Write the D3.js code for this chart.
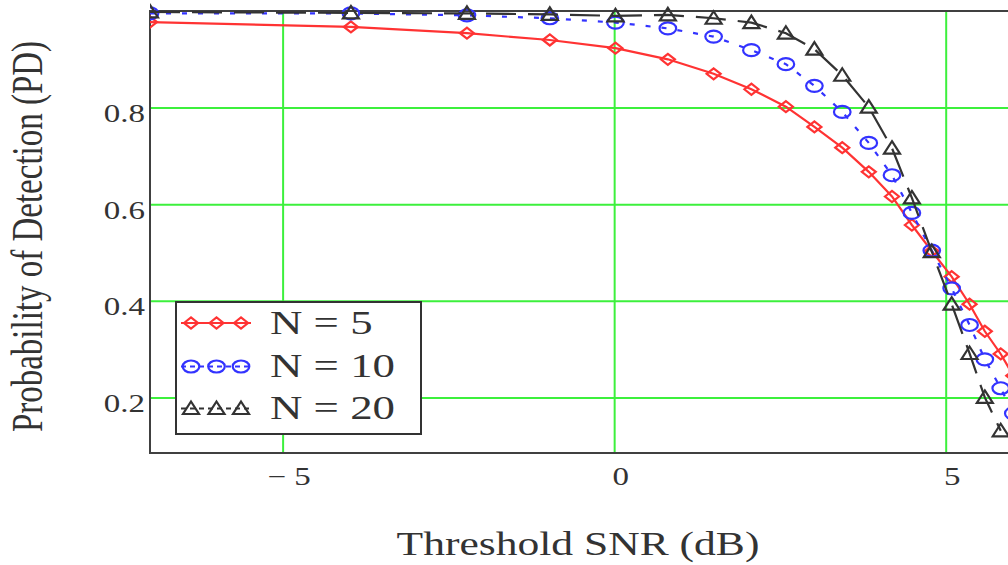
<!DOCTYPE html>
<html><head><meta charset="utf-8">
<script src="https://cdn.jsdelivr.net/npm/d3@7"></script>
<style>
body{margin:0;background:#fff}
svg{display:block}
text{font-family:"Liberation Serif","Times New Roman",serif;fill:#333}
</style>
</head><body>
<svg id="chart" width="1008" height="565"></svg>
<script>
// ---- data ----
const snrDb = [-7, -3.97, -2.22, -0.97, 0.02, 0.81, 1.50, 2.07, 2.59, 3.02, 3.44, 3.84, 4.19, 4.49, 4.79, 5.09, 5.36, 5.59, 5.83, 6.02];
const pdN5  = [0.977, 0.967, 0.954, 0.940, 0.923, 0.900, 0.870, 0.838, 0.802, 0.760, 0.717, 0.667, 0.616, 0.557, 0.503, 0.450, 0.393, 0.337, 0.290, 0.245];
const pdN10 = [0.995, 0.995, 0.991, 0.985, 0.976, 0.964, 0.947, 0.919, 0.890, 0.845, 0.791, 0.727, 0.660, 0.582, 0.504, 0.426, 0.350, 0.279, 0.219, 0.167];
const pdN20 = [0.998, 0.996, 0.995, 0.993, 0.990, 0.992, 0.985, 0.976, 0.954, 0.921, 0.867, 0.801, 0.716, 0.613, 0.502, 0.393, 0.291, 0.200, 0.131];
const seriesNames = ["N = 5", "N = 10", "N = 20"];
const xTicks = [-5, 0, 5];
const yTicks = [0.2, 0.4, 0.6, 0.8];
const xTitle = "Threshold SNR (dB)";
const yTitle = "Probability of Detection (PD)";

// ---- layout ----
const SX = 1.32; // horizontal stretch of the reference picture
const svg = d3.select("#chart");
const L = 150, T = 11, R = 1012, B = 453;
const x = d3.scaleLinear().domain([-7, 6]).range([L, R]);
const y = d3.scaleLinear().domain([0.085, 1]).range([B, T]);
const green = "#3cf03c", frame = "#404040";

svg.append("defs").append("clipPath").attr("id", "clip")
  .append("rect").attr("x", L).attr("y", 0).attr("width", R - L + 20).attr("height", B + 1);

// grid via axes
const gx = svg.append("g").attr("transform", `translate(0,${B})`)
  .call(d3.axisBottom(x).tickValues(xTicks).tickSize(-(B - T)).tickSizeOuter(0)
    .tickFormat(d => d < 0 ? "\u2212 " + Math.abs(d) : String(d)));
gx.select(".domain").remove();
gx.selectAll(".tick line").attr("stroke", green).attr("stroke-width", 2);
gx.selectAll(".tick text").attr("font-size", 25).attr("fill", "#333")
  .attr("font-family", "Liberation Serif, serif")
  .attr("y", 32).attr("dy", 0).attr("x", 6 / SX)
  .attr("transform", `scale(${SX},1)`);

const gy = svg.append("g").attr("transform", `translate(${L},0)`)
  .call(d3.axisLeft(y).tickValues(yTicks).tickSize(-(R - L)).tickSizeOuter(0)
    .tickFormat(d3.format(".1f")));
gy.select(".domain").remove();
gy.selectAll(".tick line").attr("stroke", green).attr("stroke-width", 2);
gy.selectAll(".tick text").attr("font-size", 25).attr("fill", "#333")
  .attr("font-family", "Liberation Serif, serif")
  .attr("x", -5 / SX).attr("y", 14).attr("dy", 0).attr("text-anchor", "end")
  .attr("transform", `scale(${SX},1)`);

// frame
svg.append("rect").attr("x", L).attr("y", T).attr("width", R - L).attr("height", B - T)
  .attr("fill", "none").attr("stroke", frame).attr("stroke-width", 2);

// series
const series = [
  {name: seriesNames[0], vals: pdN5,  color: "#ff3333", dash: null,    marker: "diamond"},
  {name: seriesNames[1], vals: pdN10, color: "#3333ff", dash: "5,11",  marker: "circle"},
  {name: seriesNames[2], vals: pdN20, color: "#333333", dash: "30,12", marker: "triangle"}
];
const markerPath = {
  diamond:  "M-7,0L0,-5.5L7,0L0,5.5Z",
  triangle: "M0,-7L8,5.5L-8,5.5Z"
};
function drawMarker(g, type, color) {
  if (type === "circle") {
    g.append("ellipse").attr("rx", 8.3).attr("ry", 6).attr("fill", "none")
      .attr("stroke", color).attr("stroke-width", 2.2);
  } else {
    g.append("path").attr("d", markerPath[type]).attr("fill", "none")
      .attr("stroke", color).attr("stroke-width", 2.2).attr("stroke-linejoin", "miter");
  }
}
const plot = svg.append("g").attr("clip-path", "url(#clip)");
const line = d3.line().x(d => x(d[0])).y(d => y(d[1]));
series.forEach(s => {
  const pts = s.vals.map((v, i) => [snrDb[i], v]);
  plot.append("path").datum(pts).attr("d", line).attr("fill", "none")
    .attr("stroke", s.color).attr("stroke-width", 2.2)
    .attr("stroke-dasharray", s.dash);
  pts.forEach(p => {
    const g = plot.append("g").attr("transform", `translate(${x(p[0])},${y(p[1])})`);
    drawMarker(g, s.marker, s.color);
  });
});

// legend
const lg = svg.append("g");
lg.append("rect").attr("x", 176).attr("y", 302).attr("width", 245).attr("height", 132)
  .attr("fill", "#fff").attr("stroke", "#333").attr("stroke-width", 2);
const rowY = [323, 366.5, 408.5];
series.forEach((s, i) => {
  const ry = rowY[i];
  lg.append("line").attr("x1", 181).attr("x2", 251).attr("y1", ry).attr("y2", ry)
    .attr("stroke", s.color).attr("stroke-width", 2.2).attr("stroke-dasharray", s.dash ? "5,4" : null);
  [191, 216.5, 241].forEach(mx => {
    const g = lg.append("g").attr("transform", `translate(${mx},${ry})`);
    drawMarker(g, s.marker, s.color);
  });
  lg.append("text").attr("transform", `translate(270,${ry + 10.5}) scale(${SX},1)`)
    .attr("font-size", 34).text(s.name);
});

// titles
svg.append("text").attr("transform", `translate(578,555) scale(${SX},1)`)
  .attr("text-anchor", "middle").attr("font-size", 33).text(xTitle);
svg.append("text").attr("transform", `translate(42,236.5) scale(${SX},1) rotate(-90)`)
  .attr("text-anchor", "middle").attr("font-size", 33).text(yTitle);
</script>
</body></html>
